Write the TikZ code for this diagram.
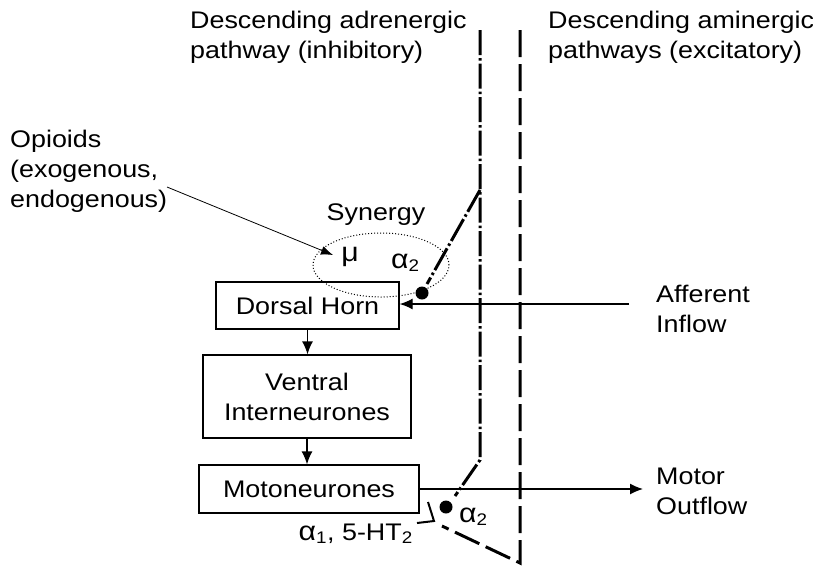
\documentclass[tikz,border=0pt]{standalone}
\usepackage{fontspec}
\setmainfont[FakeStretch=1.12]{Liberation Sans}
\usepackage{tikz}
\usetikzlibrary{arrows.meta}
\usetikzlibrary{positioning,shapes.geometric}

\begin{document}
\begin{tikzpicture}[
x=1pt,y=-1pt,
MyBoxes/.style={draw,line width=1.3pt,inner sep=0pt,align=center},
MyFlow/.style={-{Latex[length=13pt, width=11pt]},line width=1.3pt},
AdrenPath/.style={line width=3pt,dash pattern=on 25pt off 3pt on 2.5pt off 3pt},
AminPath/.style={line width=3pt,dash pattern=on 27pt off 7pt},
every node/.style={font=\fontsize{24}{30}\selectfont}
]
\useasboundingbox (0,0) rectangle (813,568);

% the three boxes of the cord
\node[MyBoxes,minimum width=183pt,minimum height=47pt] (dorsal) at (307.5,305.5) {Dorsal Horn};
\node[MyBoxes,minimum width=208pt,minimum height=83pt] (ventral) at (307,396.5) {Ventral\\Interneurones};
\node[MyBoxes,minimum width=220pt,minimum height=48pt] (moto) at (309,489) {Motoneurones};

\draw[MyFlow] (dorsal.south) -- (dorsal.south |- ventral.north);
\draw[MyFlow] (ventral.south) -- (ventral.south |- moto.north);

% headings
\node[anchor=north west,inner sep=0pt,align=left] (adren) at (190,11) {Descending adrenergic\\pathway (inhibitory)};
\node[anchor=north west,inner sep=0pt,align=left] (amin) at (548,11) {Descending aminergic\\pathways (excitatory)};

% opioids and synergy
\node[anchor=north west,inner sep=0pt,align=left] (opioids) at (10,130) {Opioids\\(exogenous,\\endogenous)};
\node[anchor=base] (synergy) at (376,220) {Synergy};
\node[ellipse,draw,dotted,line width=1pt,minimum width=136pt,minimum height=64pt] (syn) at (381,265) {};
\node[anchor=base,inner sep=0pt,font=\fontsize{27}{30}\selectfont] (mu) at (350,261) {μ};
\node[anchor=base west,inner sep=0pt] (atop) at (391,268) {{\fontsize{27}{30}\selectfont α}\textsubscript{2}};

\coordinate (opstart) at (167,187);
\coordinate (mutip) at (333,255);
\draw[-{Latex[length=12pt, width=9pt]},line width=0.8pt] (opstart) -- (mutip);

% afferent in, motor out
\node[anchor=north west,inner sep=0pt,align=left] (afferent) at (656,285) {Afferent\\Inflow};
\node[anchor=north west,inner sep=0pt,align=left] (motor) at (656,468) {Motor\\Outflow};
\coordinate (inflow) at (629,304);
\coordinate (outflow) at (643,489);
\draw[MyFlow] (inflow) -- (inflow -| dorsal.east);
\draw[MyFlow] (moto.east) -- (outflow |- moto.east);

% descending pathways
\draw[AdrenPath] (480,30) -- (480,460) -- (455,496);
\draw[AdrenPath] (480,190) -- (427,284);
\draw[AminPath] (520,30) -- (520,563) -- (442,526);
\draw[line width=2pt] (428,502) -- (434,521) -- (417,523);

\fill (422,293) circle (6.5pt);
\fill (446,507) circle (6.5pt);
\node[anchor=base west,inner sep=0pt] (abot) at (459,522) {{\fontsize{27}{30}\selectfont α}\textsubscript{2}};
\node[anchor=base east,inner sep=0pt] (recept) at (413,540) {{\fontsize{27}{30}\selectfont α}\textsubscript{1}, 5-HT\textsubscript{2}};

\end{tikzpicture}
\end{document}
